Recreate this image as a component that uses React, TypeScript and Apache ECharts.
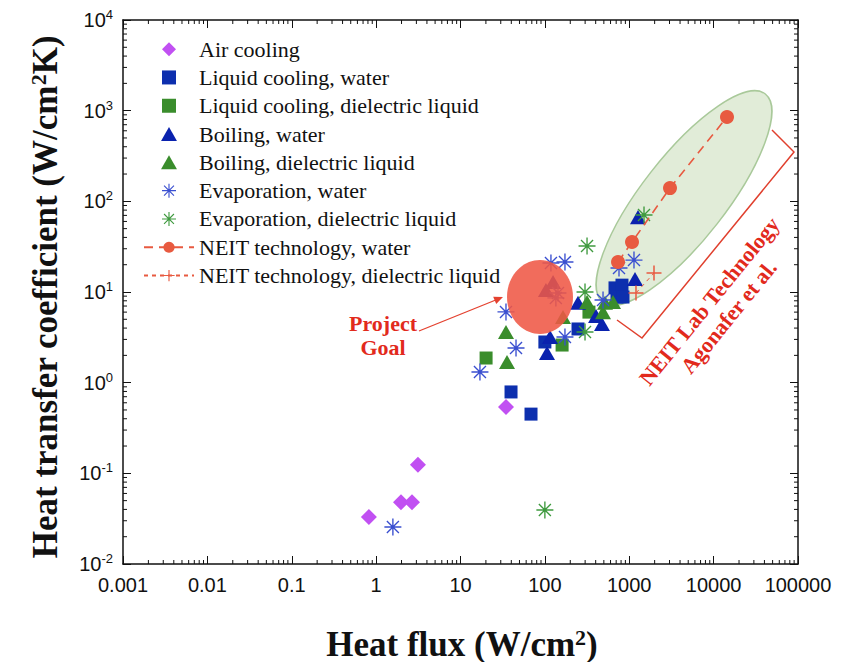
import React, { useEffect, useRef } from 'react';
import * as echarts from 'echarts';

// ---------- tick labels ----------
const X_TICK_LABELS = ['0.001', '0.01', '0.1', '1', '10', '100', '1000', '10000', '100000'];
const Y_TICK_EXPONENTS = ['-2', '-1', '0', '1', '2', '3', '4'];
const MINOR_MULTIPLIERS = [2, 3, 4, 5, 6, 7, 8, 9];
const X_DECADES = [0.001, 0.01, 0.1, 1, 10, 100, 1000, 10000];
const Y_DECADES = [0.01, 0.1, 1, 10, 100, 1000];

// ---------- series names ----------
const SERIES_NAMES = [
  'Air cooling',
  'Liquid cooling, water',
  'Liquid cooling, dielectric liquid',
  'Boiling, water',
  'Boiling, dielectric liquid',
  'Evaporation, water',
  'Evaporation, dielectric liquid',
  'NEIT technology, water',
  'NEIT technology, dielectric liquid',
];

// ---------- data: [heat flux W/cm2, HTC W/cm2K] ----------
const AIR_COOLING = [[0.82, 0.033], [1.97, 0.048], [2.66, 0.048], [3.13, 0.124], [34.6, 0.54]];
const LIQUID_WATER = [[39.7, 0.79], [68.5, 0.45], [100, 2.81], [247, 3.91], [678, 11.1], [820, 11.9], [716, 8.8], [843, 8.8]];
const LIQUID_DIEL = [[20.1, 1.87], [160, 2.6], [333, 6.0]];
const BOILING_WATER = [[103, 10.5], [125, 12.9], [115, 3.19], [106, 2.12], [247, 7.6], [404, 5.44], [475, 4.44], [1170, 13.9], [1270, 67]];
const BOILING_DIEL = [[34.6, 3.62], [35.6, 1.69], [164, 5.3], [316, 7.76], [489, 6.0], [516, 7.6], [642, 7.76]];
const EVAP_WATER = [[1.58, 0.0256], [17.0, 1.31], [45.5, 2.41], [34.6, 6.03], [118, 20.9], [173, 21.4], [143, 9.75], [135, 8.6], [173, 3.19], [489, 8.17], [1138, 22.5], [756, 18.4]];
const EVAP_DIEL = [[100, 0.0394], [316, 32.2], [299, 10.0], [299, 3.62], [1496, 70.7]];
const NEIT_WATER = [[736, 21.4], [1078, 35.6], [3040, 140], [14400, 851]];
const NEIT_DIEL = [[1202, 9.75], [1965, 16.2]];

const DIAMOND = 'path://M50 0L100 50L50 100L0 50Z';
const SQUARE = 'path://M0 0L100 0L100 100L0 100Z';
const TRIANGLE = 'path://M50 0L100 88L0 88Z';
const ASTERISK =
  'path://M46 0L54 0L54 100L46 100ZM0 46L100 46L100 54L0 54ZM17.4 11.8L88.2 82.6L82.6 88.2L11.8 17.4ZM82.6 11.8L88.2 17.4L17.4 88.2L11.8 82.6ZM42 42L58 42L58 58L42 58Z';
const PLUS = 'path://M45 0L55 0L55 100L45 100ZM0 45L100 45L100 55L0 55Z';

const SERIF = '"Liberation Serif", "Times New Roman", serif';
const SANS = '"Liberation Sans", Arial, sans-serif';

const xMinor = X_DECADES.flatMap((d) => MINOR_MULTIPLIERS.map((m) => [m * d, 1]));
const yMinor = Y_DECADES.flatMap((d) => MINOR_MULTIPLIERS.map((m) => [1, m * d]));

function scatter(name: string, data: number[][], symbol: string, size: number, color: string, z = 3) {
  return {
    name,
    type: 'scatter',
    data,
    symbol,
    symbolSize: size,
    symbolKeepAspect: true,
    itemStyle: { color, opacity: 1 },
    z,
  };
}

const axisCommon = {
  type: 'log',
  logBase: 10,
  axisLine: { show: true, onZero: false, lineStyle: { color: '#111', width: 1.5 } },
  axisTick: { show: true, inside: true, length: 8, lineStyle: { color: '#111', width: 1 } },
  splitLine: { show: false },
  minorTick: { show: false },
  minorSplitLine: { show: false },
};

export default function App() {
  const ref = useRef<HTMLDivElement>(null);

  useEffect(() => {
    if (!ref.current) return;
    const chart = echarts.init(ref.current, null, { renderer: 'svg' });

    const option: any = {
      animation: false,
      backgroundColor: '#ffffff',
      grid: { left: 123, right: 56, top: 20, bottom: 98, containLabel: false, outerBoundsMode: 'none' },
      legend: {
        orient: 'vertical',
        left: 143,
        top: 35,
        padding: 0,
        itemWidth: 50,
        itemHeight: 14,
        itemGap: 0,
        symbolKeepAspect: true,
        selectedMode: false,
        data: SERIES_NAMES,
        textStyle: { fontFamily: SERIF, fontSize: 22, color: '#111', lineHeight: 28.3 },
      },
      xAxis: [
        {
          ...axisCommon,
          position: 'bottom',
          min: 0.001,
          max: 100000,
          axisLabel: {
            show: true,
            margin: 11,
            fontFamily: SANS,
            fontSize: 20,
            color: '#111',
            formatter: (v: number) => X_TICK_LABELS[Math.round(Math.log10(v)) + 3] ?? '',
          },
        },
        {
          ...axisCommon,
          position: 'top',
          min: 0.001,
          max: 100000,
          axisLabel: { show: false },
        },
      ],
      yAxis: [
        {
          ...axisCommon,
          position: 'left',
          min: 0.01,
          max: 10000,
          axisLabel: {
            show: true,
            margin: 10,
            formatter: (v: number) => `{b|10}{s|${Y_TICK_EXPONENTS[Math.round(Math.log10(v)) + 2] ?? ''}}`,
            rich: {
              b: { fontFamily: SANS, fontSize: 20, color: '#111', lineHeight: 24 },
              s: { fontFamily: SANS, fontSize: 13, color: '#111', lineHeight: 9, verticalAlign: 'top' },
            },
          },
        },
        {
          ...axisCommon,
          position: 'right',
          min: 0.01,
          max: 10000,
          axisLabel: { show: false },
        },
      ],
      series: [
        {
          type: 'custom',
          silent: true,
          clip: false,
          z: 4,
          data: xMinor,
          renderItem: (params: any, api: any) => {
            const cs = params.coordSys;
            const px = api.coord([api.value(0), 1])[0];
            const yb = cs.y + cs.height;
            return {
              type: 'group',
              children: [
                { type: 'line', shape: { x1: px, y1: yb, x2: px, y2: yb - 4 }, style: { stroke: '#111', lineWidth: 1 } },
                { type: 'line', shape: { x1: px, y1: cs.y, x2: px, y2: cs.y + 4 }, style: { stroke: '#111', lineWidth: 1 } },
              ],
            };
          },
        },
        {
          type: 'custom',
          silent: true,
          clip: false,
          z: 4,
          data: yMinor,
          renderItem: (params: any, api: any) => {
            const cs = params.coordSys;
            const py = api.coord([1, api.value(1)])[1];
            const xr = cs.x + cs.width;
            return {
              type: 'group',
              children: [
                { type: 'line', shape: { x1: cs.x, y1: py, x2: cs.x + 4, y2: py }, style: { stroke: '#111', lineWidth: 1 } },
                { type: 'line', shape: { x1: xr, y1: py, x2: xr - 4, y2: py }, style: { stroke: '#111', lineWidth: 1 } },
              ],
            };
          },
        },
        scatter(SERIES_NAMES[0], AIR_COOLING, DIAMOND, 16, '#c150f2'),
        scatter(SERIES_NAMES[1], LIQUID_WATER, SQUARE, 13, '#0d2fae'),
        scatter(SERIES_NAMES[2], LIQUID_DIEL, SQUARE, 13, '#3a8d2c'),
        scatter(SERIES_NAMES[3], BOILING_WATER, TRIANGLE, 16, '#0a22ae'),
        scatter(SERIES_NAMES[4], BOILING_DIEL, TRIANGLE, 16, '#3a8d2c'),
        scatter(SERIES_NAMES[5], EVAP_WATER, ASTERISK, 17, '#3a4fd0'),
        scatter(SERIES_NAMES[6], EVAP_DIEL, ASTERISK, 17, '#3f9a3f'),
        {
          name: SERIES_NAMES[7],
          type: 'line',
          data: NEIT_WATER,
          symbol: 'circle',
          symbolSize: 14,
          showSymbol: true,
          itemStyle: { color: '#e85a40' },
          lineStyle: { color: '#e85a40', width: 1.6, type: [9, 6] },
          z: 5,
        },
        {
          name: SERIES_NAMES[8],
          type: 'line',
          data: NEIT_DIEL,
          symbol: PLUS,
          symbolSize: 15,
          showSymbol: true,
          itemStyle: { color: '#e85a40' },
          lineStyle: { color: '#e85a40', width: 1, type: [4, 4] },
          z: 5,
        },
      ],
      graphic: [
        {
          type: 'ellipse',
          x: 684,
          y: 198,
          rotation: (52 * Math.PI) / 180,
          shape: { cx: 0, cy: 0, rx: 132, ry: 42 },
          style: { fill: 'rgba(196,218,178,0.5)', stroke: '#a9c99a', lineWidth: 1.5 },
          z: 1,
          silent: true,
        },
        {
          type: 'ellipse',
          shape: { cx: 540, cy: 297, rx: 33, ry: 37 },
          style: { fill: 'rgba(239,88,70,0.88)' },
          z: 100,
          silent: true,
        },
        {
          type: 'line',
          shape: { x1: 419, y1: 331, x2: 497, y2: 299.5 },
          style: { stroke: '#e4412f', lineWidth: 1.3 },
          z: 100,
          silent: true,
        },
        {
          type: 'polygon',
          shape: { points: [[503, 297], [496.2, 304.1], [493.2, 296.7]] },
          style: { fill: '#e4412f' },
          z: 100,
          silent: true,
        },
        {
          type: 'text',
          x: 383,
          y: 335,
          style: {
            text: 'Project\nGoal',
            fontFamily: SERIF,
            fontWeight: 'bold',
            fontSize: 22,
            fill: '#e22a1c',
            align: 'center',
            verticalAlign: 'middle',
            lineHeight: 24,
          },
          z: 100,
          silent: true,
        },
        {
          type: 'polyline',
          shape: { points: [[772, 130], [794, 152], [642, 338], [617, 320]] },
          style: { stroke: '#e0402e', lineWidth: 1.5, fill: null },
          z: 100,
          silent: true,
        },
        {
          type: 'text',
          x: 719,
          y: 309,
          rotation: (51 * Math.PI) / 180,
          style: {
            text: 'NEIT Lab Technology\nAgonafer et al.',
            fontFamily: SERIF,
            fontWeight: 'bold',
            fontSize: 22,
            fill: '#e22a1c',
            align: 'center',
            verticalAlign: 'middle',
            lineHeight: 25,
          },
          z: 100,
          silent: true,
        },
        {
          type: 'text',
          x: 462,
          y: 644,
          style: {
            text: '{t|Heat flux (W/cm}{s|2}{t|)}',
            align: 'center',
            verticalAlign: 'middle',
            rich: {
              t: { fontFamily: SERIF, fontWeight: 'bold', fontSize: 35, fill: '#111', lineHeight: 36 },
              s: { fontFamily: SERIF, fontWeight: 'bold', fontSize: 22, fill: '#111', lineHeight: 4, verticalAlign: 'top' },
            },
          },
          z: 100,
          silent: true,
        },
        {
          type: 'text',
          x: 45,
          y: 297,
          rotation: Math.PI / 2,
          style: {
            text: '{t|Heat transfer coefficient (W/cm}{s|2}{t|K)}',
            align: 'center',
            verticalAlign: 'middle',
            rich: {
              t: { fontFamily: SERIF, fontWeight: 'bold', fontSize: 35, fill: '#111', lineHeight: 36 },
              s: { fontFamily: SERIF, fontWeight: 'bold', fontSize: 22, fill: '#111', lineHeight: 4, verticalAlign: 'top' },
            },
          },
          z: 100,
          silent: true,
        },
      ],
    };

    chart.setOption(option);
    return () => chart.dispose();
  }, []);

  return (
    <div
      ref={ref}
      style={{ position: 'fixed', left: 0, top: 0, width: 854, height: 662, background: '#ffffff' }}
    />
  );
}
